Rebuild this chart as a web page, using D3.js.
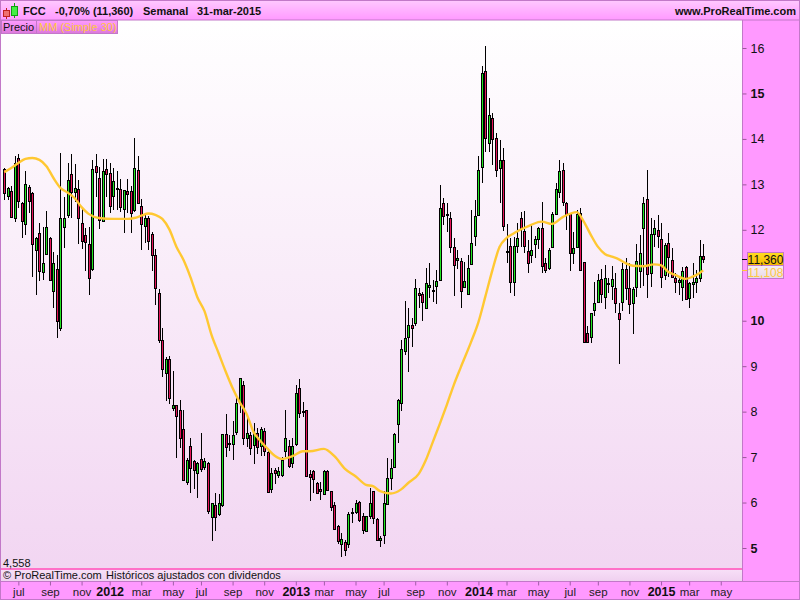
<!DOCTYPE html>
<html>
<head>
<meta charset="utf-8">
<script src="https://cdn.jsdelivr.net/npm/d3@7/dist/d3.min.js"></script>
<style>
html,body{margin:0;padding:0;background:#ff99ff;}
svg{display:block;font-family:"Liberation Sans",Arial,sans-serif;}
</style>
</head>
<body>
<svg id="chart" width="800" height="600"></svg>
<script>
const firstWeek = "2011-06-06";
const highs = [13.35,12.95,12.96,13.62,13.67,12.62,13.29,12.99,12.84,11.85,
12.16,12.07,12.41,11.85,11.52,11.45,13.68,12.72,13.46,13.67,
13.44,13.10,12.47,12.05,12.07,13.54,13.67,13.39,13.55,13.55,
13.46,13.35,13.30,13.11,12.88,13.11,12.96,14.03,13.62,12.68,
12.33,12.30,11.95,11.57,10.69,9.83,9.21,9.22,8.89,8.15,
8.26,8.03,6.97,7.43,6.94,6.90,7.53,6.99,6.90,6.00,
6.20,6.19,7.51,7.95,7.49,7.79,8.29,8.75,8.67,7.85,
7.56,7.74,7.63,7.67,7.63,7.16,6.75,6.75,6.79,7.01,
8.04,7.37,7.41,8.59,8.72,8.22,8.03,6.72,6.72,6.46,
6.46,6.72,6.72,6.26,6.02,5.50,5.32,5.18,5.80,5.89,
6.05,6.04,5.76,5.71,6.33,6.25,5.67,5.27,6.26,6.99,
6.95,7.52,8.27,9.58,10.43,10.29,10.07,10.92,10.71,10.64,
11.15,11.26,10.90,11.12,12.99,12.69,12.58,12.40,11.81,11.56,
11.37,11.30,11.45,12.44,12.66,13.62,15.60,16.04,14.89,14.58,
14.14,13.98,13.79,12.13,11.81,11.85,12.14,12.40,12.41,11.78,
12.11,11.86,12.07,12.62,11.37,11.59,12.40,13.04,13.54,13.48,
12.62,12.36,11.96,12.44,12.49,11.30,9.89,10.18,10.86,11.02,
11.13,11.22,10.93,11.20,11.04,10.40,11.26,11.37,11.28,10.75,
11.69,11.89,12.72,13.32,12.25,12.22,12.33,12.14,11.70,11.94,
11.59,11.04,10.97,11.18,11.20,10.86,11.26,11.12,11.78,11.68];
const bodyTops = [13.33,12.93,12.86,13.46,13.57,12.60,13.00,12.95,12.82,11.83,
11.94,11.28,12.07,11.81,11.28,11.13,12.27,12.25,13.10,13.22,
12.93,12.89,12.14,11.88,11.68,13.33,13.40,13.13,13.30,13.33,
13.26,13.07,12.91,12.89,12.87,12.86,12.85,13.35,13.31,12.52,
12.25,12.27,11.90,11.44,10.60,9.57,9.15,9.15,8.15,8.14,
8.03,7.61,6.93,7.24,6.91,6.88,6.95,6.91,6.86,6.00,
5.94,5.98,7.50,7.50,7.31,7.48,8.18,8.73,8.58,7.52,
7.48,7.52,7.54,7.62,7.57,7.11,6.66,6.72,6.69,6.93,
7.41,7.24,7.24,8.40,8.53,8.02,8.03,6.62,6.69,6.44,
6.29,6.69,6.69,6.25,5.94,5.48,5.20,5.14,5.75,5.79,
5.98,6.02,5.70,5.70,5.98,6.25,5.64,5.21,5.98,6.53,
6.75,7.50,8.25,9.37,9.63,9.90,9.90,10.71,10.60,10.58,
10.84,10.78,10.67,10.87,12.47,12.60,12.35,12.27,11.63,11.37,
11.31,10.87,11.17,11.72,12.30,13.31,15.46,15.49,14.52,14.45,
14.03,13.53,13.53,11.53,11.64,11.64,11.83,12.25,11.97,11.53,
11.55,11.80,12.03,12.05,11.26,11.55,12.34,12.89,13.29,13.31,
12.58,12.34,11.61,12.34,12.36,11.29,9.74,10.18,10.40,10.89,
10.91,10.93,10.84,10.91,10.73,10.18,11.13,11.13,10.71,10.69,
11.31,11.48,12.58,12.67,11.90,12.03,11.99,11.79,11.66,11.70,
11.33,10.94,10.90,11.09,11.18,10.84,10.86,10.95,11.42,11.42];
const bodyBottoms = [12.80,12.76,12.29,12.25,12.62,12.20,12.12,12.64,11.70,11.57,
11.10,11.09,11.48,10.89,10.67,9.98,9.85,12.06,12.34,12.82,
12.84,12.25,11.74,11.72,10.93,11.13,13.26,12.20,12.19,13.22,
12.53,12.75,12.89,12.49,12.45,12.80,12.36,12.42,12.58,12.12,
12.07,11.76,11.44,10.71,9.56,8.93,8.84,8.29,8.09,7.90,
7.41,6.49,6.44,6.75,6.72,6.66,6.72,6.77,5.80,5.70,
5.67,5.73,5.94,7.21,7.29,7.28,7.54,8.17,7.41,7.41,
7.19,7.25,7.24,7.24,7.12,6.22,6.30,6.66,6.61,6.61,
7.12,6.79,6.86,7.27,7.98,8.00,6.58,6.55,6.51,6.22,
6.24,6.19,6.28,5.89,5.42,5.14,5.10,4.96,5.08,5.78,
5.78,5.62,5.39,5.38,5.70,5.65,5.17,5.16,5.28,5.96,
6.53,6.77,7.72,8.18,9.34,9.63,9.83,9.94,10.55,10.40,
10.29,10.73,10.64,10.75,10.89,12.31,12.33,11.63,11.24,11.32,
10.66,10.73,10.59,11.26,11.85,12.33,13.39,14.01,13.90,13.99,
13.33,13.35,12.08,11.52,10.84,10.84,11.65,12.02,11.63,11.26,
11.45,11.68,11.79,11.21,11.11,11.15,11.61,12.34,12.82,12.60,
12.34,11.48,11.50,11.61,11.11,9.52,9.55,9.66,10.25,10.40,
10.58,10.51,10.82,10.76,10.40,10.05,10.40,10.71,10.36,10.38,
10.73,11.08,12.03,11.02,11.04,11.90,11.85,10.95,11.00,11.39,
10.95,10.86,10.85,10.73,10.47,10.51,10.81,10.86,10.93,11.36];
const lows = [12.66,12.66,12.25,12.18,12.47,11.83,11.89,12.36,10.97,10.57,
10.88,10.90,11.45,10.88,10.29,9.63,9.77,11.61,12.27,12.25,
12.62,11.68,11.57,11.10,10.57,11.10,12.73,12.02,12.17,12.73,
12.36,12.44,12.44,12.40,11.92,12.36,11.94,12.40,12.57,11.56,
11.72,11.56,11.10,10.35,9.52,8.77,8.24,8.17,8.02,6.99,
7.21,6.47,6.39,6.22,6.29,6.11,6.68,6.72,5.75,5.16,
5.38,5.71,5.91,7.01,7.14,6.94,7.49,7.96,7.27,7.23,
7.05,6.85,7.07,7.02,7.02,6.22,6.22,6.41,6.53,6.57,
7.01,6.75,6.75,7.24,7.87,7.89,6.57,6.04,6.22,6.19,
6.05,6.16,6.26,5.81,5.40,5.09,4.81,4.82,4.99,5.56,
5.75,5.58,5.31,5.38,5.64,5.53,5.16,5.03,5.08,5.95,
6.27,6.75,7.30,8.02,9.25,8.88,9.43,9.89,10.27,9.99,
10.27,10.49,10.42,10.37,10.87,12.10,11.96,11.48,10.55,11.14,
10.27,10.71,10.57,11.25,11.64,12.31,13.04,13.72,13.72,13.43,
13.17,12.58,11.98,11.26,10.60,10.55,11.48,11.63,11.48,11.06,
11.28,11.37,11.57,11.06,11.04,11.12,11.61,12.33,12.69,12.52,
12.00,11.10,11.25,11.59,11.10,9.50,9.50,9.50,10.11,10.40,
10.40,10.26,10.60,10.45,10.18,9.05,10.22,10.46,10.15,9.71,
10.53,10.71,10.76,10.51,10.75,11.63,11.59,10.71,10.90,10.97,
10.93,10.60,10.57,10.44,10.46,10.29,10.49,10.62,10.86,11.28];
const directions = ("rgrgrrgrrg"+"rggrgrgggr"+"grrrrgrrgr"+"rggrgrrgrr"+"grrrrrgrgr"+
"rrgrrgrgrg"+"rggrggggrg"+"rgrgrrgrgg"+"grggrrrrrr"+"rgrrrrgrgr"+
"grrggrrggg"+"ggggggrgrr"+"ggrggrrrrg"+"rggggggrgr"+"rgrrrggrrr"+
"gggrrggggr"+"rrggrrrggg"+"rgggrrgrrg"+"gggrggrrgr"+"rrggrggggr").split("");

const maWeeks = [0,2,4,6,8,10,12,14,16,18,20,22,24,27,31,35,37,39,41,43,45,47,49,51,53,55,57,59,61,63,65,67,69,71,73,75,77,79,82,85,87,91,94,97,100,103,105,107,110,113,115,118,120,122,124,126,128,130,133,135,137,139,141,143,145,148,150,153,156,159,163,165,167,169,171,173,175,177,179,182,185,187,189,191,194,196,198,199];
const maValues = [13.27,13.36,13.47,13.56,13.58,13.54,13.40,13.14,12.92,12.82,12.70,12.50,12.35,12.26,12.24,12.24,12.26,12.31,12.36,12.33,12.24,12.01,11.63,11.34,10.96,10.51,10.21,9.69,9.29,8.89,8.52,8.21,7.95,7.55,7.35,7.18,7.03,6.96,7.02,7.13,7.13,7.18,7.02,6.74,6.58,6.39,6.36,6.25,6.20,6.29,6.43,6.63,6.93,7.33,7.73,8.15,8.59,8.98,9.55,9.97,10.54,11.12,11.62,11.82,11.92,12.04,12.11,12.18,12.13,12.28,12.39,12.18,11.89,11.63,11.47,11.41,11.35,11.26,11.21,11.20,11.24,11.22,11.08,11.01,10.92,10.97,11.05,11.108];

const priceTicks = [5,6,7,8,9,10,12,13,14,15,16];
const boldPrices = [5,10,15];
const monthTickLabels = ["jul","sep","nov","2012","mar","may","jul","sep","nov","2013","mar","may","jul","sep","nov","2014","mar","may","jul","sep","nov","2015","mar","may"];
const monthTickStarts = ["2011-07-01","2011-09-01","2011-11-02","2012-01-01","2012-03-01","2012-05-01","2012-07-01","2012-09-01","2012-11-01","2013-01-01","2013-03-01","2013-05-01","2013-07-01","2013-09-01","2013-11-01","2014-01-01","2014-03-01","2014-05-01","2014-07-01","2014-09-01","2014-11-01","2015-01-01","2015-03-01","2015-05-01"];
const lastClose = 11.36, lastMa = 11.108, scaleFloor = 4.558;

const svg = d3.select("#chart");
const defs = svg.append("defs");
function grad(id, stops){
  const g = defs.append("linearGradient").attr("id",id).attr("x1",0).attr("y1",0).attr("x2",0).attr("y2",1);
  stops.forEach(([o,c])=>g.append("stop").attr("offset",o).attr("stop-color",c));
}
grad("plotBg",[[0,"#ffffff"],[1,"#f2d6f2"]]);
grad("headBg",[[0,"#ffc8ff"],[1,"#ff99ff"]]);
grad("legBg",[[0,"#ff9cff"],[1,"#dc78dc"]]);
grad("noteBg",[[0,"#f7dff7"],[1,"#f0d0f0"]]);
grad("goldBg",[[0,"#ffdd22"],[1,"#f5b800"]]);
grad("paleBg",[[0,"#f6eef6"],[1,"#e8d8e8"]]);

const border = "#c278c8";
const parse = d3.utcParse("%Y-%m-%d");
const start = parse(firstWeek);
const weekDate = i => d3.utcWeek.offset(start, i);

const x = d3.scaleUtc().domain([weekDate(0), weekDate(199)]).range([4.3, 703.2]);
const y = d3.scaleLinear().domain([5, 16]).range([548, 48]);

// panels
svg.append("rect").attr("width",800).attr("height",600).attr("fill","#ff99ff");
svg.append("rect").attr("x",1).attr("y",20).attr("width",741).attr("height",548).attr("fill","url(#plotBg)");
svg.append("rect").attr("x",0.5).attr("y",0.5).attr("width",799).attr("height",19.5).attr("fill","url(#headBg)").attr("stroke",border);
svg.append("rect").attr("x",1).attr("y",570).attr("width",741).attr("height",11).attr("fill","url(#noteBg)");
const pl = svg.append("g").attr("shape-rendering","crispEdges");
pl.append("line").attr("x1",0.5).attr("x2",0.5).attr("y1",0).attr("y2",600).attr("stroke",border);
pl.append("line").attr("x1",742.5).attr("x2",742.5).attr("y1",20).attr("y2",582).attr("stroke",border);
pl.append("line").attr("x1",1).attr("x2",742).attr("y1",569).attr("y2",569).attr("stroke","#ff70c8").attr("stroke-width",2);
pl.append("line").attr("x1",1).attr("x2",800).attr("y1",581.5).attr("y2",581.5).attr("stroke",border);
pl.append("line").attr("x1",0).attr("x2",800).attr("y1",599.5).attr("y2",599.5).attr("stroke",border);
pl.append("line").attr("x1",799.5).attr("x2",799.5).attr("y1",0).attr("y2",600).attr("stroke",border);

// candles
const weeks = d3.range(highs.length);
const candles = svg.append("g").attr("shape-rendering","crispEdges");
const px = i => Math.round(x(weekDate(i)));
candles.selectAll("line").data(weeks).join("line")
  .attr("x1",i=>px(i)+0.5).attr("x2",i=>px(i)+0.5)
  .attr("y1",i=>y(highs[i])).attr("y2",i=>y(lows[i]))
  .attr("stroke","#000");
candles.selectAll("rect").data(weeks).join("rect")
  .attr("x",i=>px(i)-0.5).attr("width",2)
  .attr("y",i=>Math.round(y(bodyTops[i]))+0.5)
  .attr("height",i=>Math.max(1,Math.round(y(bodyBottoms[i])-y(bodyTops[i]))))
  .attr("fill",i=>directions[i]==="g"?"#22e622":"#e6145a")
  .attr("stroke","#000");

// moving average
svg.append("path")
  .attr("d", d3.line().x((_,k)=>x(weekDate(maWeeks[k]))).y(v=>y(v)).curve(d3.curveMonotoneX)(maValues))
  .attr("fill","none").attr("stroke","#ffc832").attr("stroke-width",2.4).attr("stroke-linejoin","round");

// y axis
const yAxis = svg.append("g").attr("transform","translate(742.5,0)")
  .call(d3.axisRight(y).tickValues(priceTicks).tickSize(4).tickPadding(4).tickFormat(d3.format("d")));
yAxis.select(".domain").remove();
yAxis.selectAll(".tick line").attr("stroke","#9a5a9a");
yAxis.selectAll("text").attr("fill","#111").attr("font-size",12.5).attr("font-family","Liberation Sans")
  .attr("font-weight",d=>boldPrices.includes(d)?"bold":"normal");

// x axis
const tickDates = monthTickStarts.map(s=>d3.utcMonday.ceil(parse(s)));
const xAxis = svg.append("g").attr("transform","translate(0,581.5)")
  .call(d3.axisBottom(x).tickValues(tickDates).tickSize(4).tickPadding(2)
    .tickFormat((d,i)=>monthTickLabels[i]));
xAxis.select(".domain").remove();
xAxis.selectAll(".tick line").attr("stroke","#a060a8");
xAxis.selectAll("text").attr("font-family","Liberation Sans").attr("fill",(d,i)=>/^\d/.test(monthTickLabels[i])?"#111":"#222")
  .attr("font-size",(d,i)=>/^\d/.test(monthTickLabels[i])?12.5:11.5)
  .attr("font-weight",(d,i)=>/^\d/.test(monthTickLabels[i])?"bold":"normal");

// header
const head = svg.append("g").attr("font-size",11).attr("font-weight","bold").attr("fill","#111");
head.append("text").attr("x",23).attr("y",14.5).text("FCC");
head.append("text").attr("x",55).attr("y",14.5).text("-0,70% (11,360)");
head.append("text").attr("x",143).attr("y",14.5).text("Semanal");
head.append("text").attr("x",197).attr("y",14.5).text("31-mar-2015");
head.append("text").attr("x",796).attr("y",14.5).attr("text-anchor","end").text("www.ProRealTime.com");
const icon = svg.append("g").attr("shape-rendering","crispEdges");
icon.append("line").attr("x1",6.5).attr("x2",6.5).attr("y1",8).attr("y2",19).attr("stroke","#c02020");
icon.append("rect").attr("x",3.5).attr("y",10.5).attr("width",6).attr("height",6).attr("fill","#f07070").attr("stroke","#c02020");
icon.append("line").attr("x1",14.5).attr("x2",14.5).attr("y1",3).attr("y2",18).attr("stroke","#10a010");
icon.append("rect").attr("x",11.5).attr("y",6.5).attr("width",6).attr("height",9).attr("fill","#44ee44").attr("stroke","#10a010");

// legend
const leg = svg.append("g").attr("font-size",11);
leg.append("rect").attr("x",1.5).attr("y",20.5).attr("width",35).attr("height",13).attr("fill","url(#legBg)").attr("stroke",border).attr("shape-rendering","crispEdges");
leg.append("rect").attr("x",36.5).attr("y",20.5).attr("width",81).attr("height",13).attr("fill","url(#legBg)").attr("stroke",border).attr("shape-rendering","crispEdges");
leg.append("text").attr("x",3).attr("y",31).attr("fill","#111").text("Precio");
leg.append("text").attr("x",39).attr("y",31).attr("fill","#ffc840").text("MM (Simple 30)");

// footnotes
svg.append("text").attr("x",3).attr("y",566.5).attr("font-size",11).attr("fill","#111").text("4,558");
svg.append("text").attr("x",3).attr("y",579).attr("font-size",11).attr("fill","#111").text("© ProRealTime.com");
svg.append("text").attr("x",106).attr("y",579).attr("font-size",11).attr("fill","#111").text("Históricos ajustados con dividendos");

// last value flags
const flags = svg.append("g").attr("font-size",12);
flags.append("line").attr("x1",742).attr("x2",747).attr("y1",Math.round(y(lastClose))+0.5).attr("y2",Math.round(y(lastClose))+0.5).attr("stroke","#000").attr("shape-rendering","crispEdges");
flags.append("line").attr("x1",742).attr("x2",747).attr("y1",Math.round(y(lastMa))+0.5).attr("y2",Math.round(y(lastMa))+0.5).attr("stroke","#ffc832").attr("shape-rendering","crispEdges");
flags.append("rect").attr("x",747.5).attr("y",252.5).attr("width",36).attr("height",13).attr("fill","url(#goldBg)").attr("stroke",border).attr("shape-rendering","crispEdges");
flags.append("rect").attr("x",747.5).attr("y",265.5).attr("width",36).attr("height",13).attr("fill","url(#paleBg)").attr("stroke",border).attr("shape-rendering","crispEdges");
flags.append("text").attr("x",765.5).attr("y",263.5).attr("text-anchor","middle").attr("fill","#111").text(d3.format(".3f")(lastClose).replace(".",","));
flags.append("text").attr("x",765.5).attr("y",276.5).attr("text-anchor","middle").attr("fill","#ffc840").text(d3.format(".3f")(lastMa).replace(".",","));
</script>
</body>
</html>
